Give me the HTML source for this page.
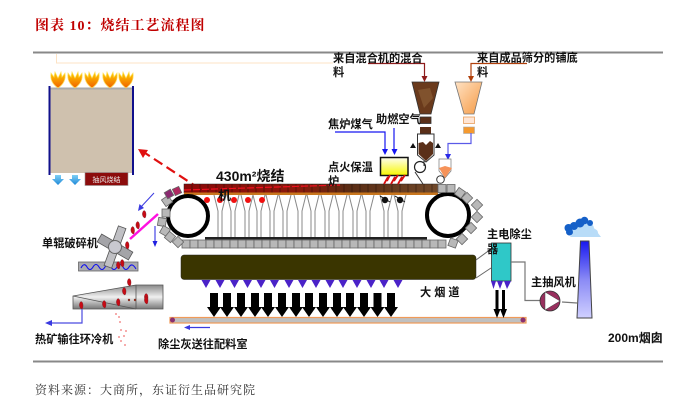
<!DOCTYPE html>
<html>
<head>
<meta charset="utf-8">
<style>
html,body{margin:0;padding:0;background:#fff;width:700px;height:415px;overflow:hidden}
svg{display:block}
.s{font-family:"Liberation Sans","Noto Sans CJK SC",sans-serif;fill:#111;font-size:11.2px;font-weight:700}
</style>
</head>
<body>
<svg width="700" height="415" viewBox="0 0 700 415" xmlns="http://www.w3.org/2000/svg">
<defs>
<linearGradient id="bed" x1="0" x2="1" y1="0" y2="0"><stop offset="0" stop-color="#8c0808"/><stop offset=".45" stop-color="#8a1a0c"/><stop offset=".65" stop-color="#5a2c14"/><stop offset="1" stop-color="#70492a"/></linearGradient>
<linearGradient id="org" x1="0" x2="1" y1="0" y2="1"><stop offset="0" stop-color="#ffe2c4"/><stop offset="1" stop-color="#f59a45"/></linearGradient>
<linearGradient id="yel" x1="0" x2="0" y1="0" y2="1"><stop offset="0" stop-color="#fdfdf0"/><stop offset="1" stop-color="#f8f800"/></linearGradient>
<linearGradient id="chim" x1="0" x2="0" y1="0" y2="1"><stop offset="0" stop-color="#1818f0"/><stop offset=".5" stop-color="#8a8af5"/><stop offset="1" stop-color="#d0d0ff"/></linearGradient>
<linearGradient id="cyl" x1="0" x2="0" y1="0" y2="1"><stop offset="0" stop-color="#888"/><stop offset=".5" stop-color="#f0f0f0"/><stop offset="1" stop-color="#777"/></linearGradient>
<linearGradient id="fl" x1="0" x2="0" y1="0" y2="1"><stop offset="0" stop-color="#ffd000"/><stop offset="1" stop-color="#f06000"/></linearGradient>
<linearGradient id="ba" x1="0" x2="0" y1="0" y2="1"><stop offset="0" stop-color="#7fd0f5"/><stop offset="1" stop-color="#1e88d8"/></linearGradient>
<g id="flame"><path d="M0,16 C-6,12 -8,7 -7,1 L-4,5 L-3,0 L0,6 L3,0 L4,5 L7,1 C8,7 6,12 0,16Z" fill="url(#fl)" stroke="#ffe060" stroke-width=".7"/></g>
<g id="down"><path d="M-3,0H3V4H6L0,10L-6,4H-3Z" fill="url(#ba)"/></g>
<g id="tri"><path d="M-4.5,0H4.5L0,8Z" fill="#4a22c8"/></g>
<g id="ar"><path d="M-4,0H4V14H7L0,24L-7,14H-4Z" fill="#000"/></g>
<g id="pl"><rect x="-4" y="-4" width="8" height="8" fill="#b8b8b8" stroke="#666" stroke-width=".8"/></g>
<g id="leg"><path d="M-6,195L-2,211V238H2V211L6,195" fill="#fff" stroke="#888" stroke-width="1"/></g>
<g id="rock"><path d="M0,-3.500C2.500,-3 2.500,2.500 1,4C-2,3.500 -2.500,-2 0,-3.500Z" fill="#c80a14" stroke="#70242c" stroke-width=".4"/></g>
</defs>

<text x="35" y="30" style="font-family:'Liberation Serif','Noto Serif CJK SC',serif;font-size:14px;font-weight:700;fill:#c00000;letter-spacing:1px">图表 10&#xFF1A;烧结工艺流程图</text>
<rect x="33" y="51.500" width="630" height="2" fill="#888"/>
<rect x="33" y="360.500" width="630" height="2" fill="#888"/>
<path d="M56.500,54V63H333" fill="none" stroke="#fde3c4" stroke-width="1"/>

<!-- left box -->
<rect x="50" y="88" width="83" height="85" fill="#cfc1ae"/>
<rect x="50" y="87.500" width="83" height="2" fill="#aaa"/>
<rect x="48.500" y="86" width="2" height="89" fill="#10108c"/>
<rect x="132" y="86" width="2" height="89" fill="#10108c"/>
<use href="#flame" x="58" y="72"/><use href="#flame" x="75" y="72"/><use href="#flame" x="92" y="72"/><use href="#flame" x="110" y="72"/><use href="#flame" x="126" y="72"/>
<use href="#down" x="58" y="175"/><use href="#down" x="75" y="175"/>
<rect x="85" y="172.500" width="43" height="13" fill="#8c0c0c" stroke="#999" stroke-width=".6"/>
<text x="106.500" y="182" text-anchor="middle" style="font-family:'Liberation Sans','Noto Sans CJK SC',sans-serif;font-size:7px;fill:#eee">抽风烧结</text>
<path d="M200,189L145,153" stroke="#e01010" stroke-width="2.200" stroke-dasharray="10,5" fill="none"/>
<path d="M138,149L148,150L143,158Z" fill="#e01010"/>

<!-- sinter bed -->
<rect x="184" y="184" width="254" height="9" fill="url(#bed)" stroke="#222" stroke-width=".5"/>
<path d="M192,184v9M200,184v9M208,184v9M216,184v9M224,184v9M232,184v9M240,184v9M248,184v9M256,184v9M264,184v9M272,184v9M280,184v9M288,184v9M296,184v9M304,184v9M312,184v9M320,184v9M328,184v9M336,184v9M344,184v9M352,184v9M360,184v9M368,184v9M376,184v9M384,184v9M392,184v9M400,184v9M408,184v9M416,184v9M424,184v9M432,184v9" stroke="#1a0a05" stroke-width=".7" opacity=".6"/>
<path d="M184,190L340,185" stroke="#f01020" stroke-width="1.200" stroke-dasharray="7,2"/>
<rect x="184" y="192.500" width="254" height="2.500" fill="#c8761e"/>

<!-- legs -->
<use href="#leg" x="220"/><use href="#leg" x="233"/><use href="#leg" x="247"/><use href="#leg" x="259"/><use href="#leg" x="272"/><use href="#leg" x="285"/><use href="#leg" x="300"/><use href="#leg" x="313"/><use href="#leg" x="327"/><use href="#leg" x="341"/><use href="#leg" x="355"/><use href="#leg" x="368"/><use href="#leg" x="386"/><use href="#leg" x="400"/>
<rect x="205" y="237" width="222" height="2.500" fill="#222"/>
<g fill="#f01010"><circle cx="207" cy="200" r="3"/><circle cx="220" cy="200" r="3"/><circle cx="234" cy="200" r="3"/><circle cx="248" cy="200" r="3"/><circle cx="262" cy="200" r="3"/></g>
<circle cx="385" cy="200" r="3.200" fill="#111"/><circle cx="400" cy="200" r="3.200" fill="#111"/>
<path d="M380,196L390,202M395,196L405,202" stroke="#111"/>

<!-- wheels -->
<circle cx="188" cy="216" r="20" fill="#fff" stroke="#000" stroke-width="4"/>
<circle cx="448" cy="215" r="21" fill="#fff" stroke="#000" stroke-width="4"/>

<!-- bottom chain -->
<g>
<use href="#pl" x="186" y="244"/><use href="#pl" x="194" y="244"/><use href="#pl" x="202" y="244"/><use href="#pl" x="210" y="244"/><use href="#pl" x="218" y="244"/><use href="#pl" x="226" y="244"/><use href="#pl" x="234" y="244"/><use href="#pl" x="242" y="244"/><use href="#pl" x="250" y="244"/><use href="#pl" x="258" y="244"/><use href="#pl" x="266" y="244"/><use href="#pl" x="274" y="244"/><use href="#pl" x="282" y="244"/><use href="#pl" x="290" y="244"/><use href="#pl" x="298" y="244"/><use href="#pl" x="306" y="244"/><use href="#pl" x="314" y="244"/><use href="#pl" x="322" y="244"/><use href="#pl" x="330" y="244"/><use href="#pl" x="338" y="244"/><use href="#pl" x="346" y="244"/><use href="#pl" x="354" y="244"/><use href="#pl" x="362" y="244"/><use href="#pl" x="370" y="244"/><use href="#pl" x="378" y="244"/><use href="#pl" x="386" y="244"/><use href="#pl" x="394" y="244"/><use href="#pl" x="402" y="244"/><use href="#pl" x="410" y="244"/><use href="#pl" x="418" y="244"/><use href="#pl" x="426" y="244"/><use href="#pl" x="434" y="244"/><use href="#pl" x="442" y="244"/>
</g>
<!-- left chain -->
<g transform="translate(167,201) rotate(-35)"><use href="#pl"/></g>
<rect x="162" y="209" width="8" height="8" fill="#b8b8b8" stroke="#666" stroke-width=".8"/>
<g transform="translate(162,222) rotate(10)"><use href="#pl"/></g>
<g transform="translate(165,231) rotate(30)"><use href="#pl"/></g>
<g transform="translate(170,237) rotate(40)"><use href="#pl"/></g>
<g transform="translate(178,242) rotate(45)"><use href="#pl"/></g>
<g transform="translate(169,194) rotate(-30)"><rect x="-3.500" y="-3.500" width="7" height="7" fill="#8a2a70" stroke="#666" stroke-width=".8"/></g>
<g transform="translate(177,191) rotate(-25)"><rect x="-3.500" y="-3.500" width="7" height="7" fill="#b02860" stroke="#666" stroke-width=".8"/></g>
<!-- right chain -->
<use href="#pl" x="442" y="188.500"/><use href="#pl" x="451" y="188.500"/>
<g transform="translate(460,193) rotate(35)"><use href="#pl"/></g>
<g transform="translate(467,198) rotate(45)"><use href="#pl"/></g>
<g transform="translate(477,205) rotate(45)"><use href="#pl"/></g>
<g transform="translate(477,217) rotate(45)"><use href="#pl"/></g>
<g transform="translate(471,228) rotate(45)"><use href="#pl"/></g>
<g transform="translate(462,239) rotate(45)"><use href="#pl"/></g>
<g transform="translate(453,243) rotate(20)"><use href="#pl"/></g>

<!-- flue -->
<rect x="181" y="255" width="295" height="24.500" rx="3" fill="#3a3500" stroke="#222" stroke-width=".5"/>
<path d="M476,260L491,249M476,278L491,268" stroke="#666" stroke-width="1"/>
<use href="#tri" x="206" y="280"/><use href="#tri" x="220" y="280"/><use href="#tri" x="234.500" y="280"/><use href="#tri" x="247.500" y="280"/><use href="#tri" x="261" y="280"/><use href="#tri" x="274.500" y="280"/><use href="#tri" x="289" y="280"/><use href="#tri" x="302.500" y="280"/><use href="#tri" x="316" y="280"/><use href="#tri" x="330" y="280"/><use href="#tri" x="343" y="280"/><use href="#tri" x="357" y="280"/><use href="#tri" x="371" y="280"/><use href="#tri" x="384" y="280"/><use href="#tri" x="398" y="280"/>
<use href="#ar" x="214" y="293"/><use href="#ar" x="227" y="293"/><use href="#ar" x="241" y="293"/><use href="#ar" x="255" y="293"/><use href="#ar" x="268" y="293"/><use href="#ar" x="282" y="293"/><use href="#ar" x="296" y="293"/><use href="#ar" x="309" y="293"/><use href="#ar" x="323" y="293"/><use href="#ar" x="337" y="293"/><use href="#ar" x="350" y="293"/><use href="#ar" x="364" y="293"/><use href="#ar" x="377.500" y="293"/><use href="#ar" x="391" y="293"/>

<!-- dust conveyor -->
<rect x="170" y="317.500" width="356" height="5.500" fill="#c0c0c0" stroke="#f09a58" stroke-width="1.200"/>
<circle cx="172.500" cy="320" r="2.500" fill="#8a3070"/><circle cx="523" cy="320" r="2.500" fill="#8a3070"/>
<path d="M210,327.500H188" stroke="#3a3ae0" stroke-width="1.200"/><path d="M184,327.500L190,325V330Z" fill="#3a3ae0"/>

<!-- material lines -->
<path d="M368,63.500H424.500V78" fill="none" stroke="#8e1c1c" stroke-width="1.200"/><path d="M424.500,82L421.500,76H427.500Z" fill="#8e1c1c"/>
<path d="M527,63.500H471V78" fill="none" stroke="#b0400c" stroke-width="1.200"/><path d="M471,82L468,76H474Z" fill="#b0400c"/>

<!-- hopper 1 -->
<path d="M412,82H439L431,114H420Z" fill="#6a3a1c" stroke="#333" stroke-width=".8"/>
<path d="M418,90L430,88L433,98L424,108Z" fill="#8a5c34" opacity=".7"/>
<rect x="420" y="117" width="11" height="6.500" fill="#5a2f18" stroke="#333" stroke-width=".8"/>
<rect x="420" y="127" width="11" height="6.500" fill="#5a2f18"/>
<path d="M417.500,134H434V155L426,162L417.500,155Z" fill="#fff" stroke="#333" stroke-width="1"/>
<path d="M418.500,143L423,142L426,145L430,141L433,143V154L426,161L418.500,154Z" fill="#5a2f18"/>
<path d="M410,148L413,143L416,148ZM435,148L438,143L441,148Z" fill="#111"/>
<circle cx="420" cy="167" r="5.500" fill="#fff" stroke="#222" stroke-width="1.200"/>
<path d="M415,172L423,184" stroke="#333" stroke-width="1"/><path d="M424,161L424,166" stroke="#333"/>

<!-- hopper 2 -->
<path d="M455,82H482L474,114H464Z" fill="url(#org)" stroke="#777" stroke-width=".8"/>
<rect x="463.500" y="117" width="11" height="6.500" fill="#ffe6d6" stroke="#e8a060" stroke-width=".8"/>
<rect x="463.500" y="127" width="11" height="6.500" fill="#f59a30" stroke="#aaa" stroke-width=".6"/>
<path d="M471,133V143.500H448V156" fill="none" stroke="#5a5ae8" stroke-width="1.200"/><path d="M448,160L445,154H451Z" fill="#2a2ae8"/>
<path d="M439,159H451V171L445,178L439,171Z" fill="#fff" stroke="#777" stroke-width=".7"/>
<path d="M439,168L445,166L452,168L445,178Z" fill="#f6935a"/>
<circle cx="440.500" cy="179.500" r="3.800" fill="#fff" stroke="#333" stroke-width="1"/>

<!-- furnace -->
<rect x="380.500" y="157.500" width="27.500" height="18" fill="url(#yel)" stroke="#111" stroke-width="1.500"/>
<path d="M384,184L388,177L387,181L390,175M391,184L395,177L394,181L398,175M398,184L402,177L401,181L405,175" stroke="#d81010" stroke-width="1.800" fill="none"/>
<path d="M335,132H385V150M394,128V150" fill="none" stroke="#1616f0" stroke-width="1.200"/>
<path d="M385,155L382,149H388ZM394.500,155L391.500,149H397.500Z" fill="#1616f0"/>

<!-- crusher -->
<rect x="78.500" y="262" width="59.500" height="9" fill="#aaaab0" stroke="#666" stroke-width=".8"/>
<path d="M81,268Q84,262 87,267T93,267T99,267T105,267T111,267T117,267T123,267T129,267T136,269" fill="none" stroke="#1010f0" stroke-width="1.100"/>
<g transform="translate(115,247)">
<g transform="rotate(20)"><rect x="-4" y="-21" width="8" height="42" fill="#c0c0c4" stroke="#555" stroke-width=".8"/></g>
<g transform="rotate(120)"><rect x="-4.500" y="-18" width="9" height="36" fill="#a4a4a8" stroke="#555" stroke-width=".8"/></g>
<circle r="6.500" fill="#c8c8d0" stroke="#666"/>
</g>
<path d="M130,239L158,214" stroke="#ff10e0" stroke-width="2.500"/>
<path d="M154,193L140,208" stroke="#3a3ae0" stroke-width="1"/><path d="M138,211L139.500,204L144,208Z" fill="#3a3ae0"/>
<path d="M155,226V243" stroke="#2020e0" stroke-width="1"/><path d="M155,247L152.500,241H157.500Z" fill="#2020e0"/>
<use href="#rock" x="144" y="214"/><use href="#rock" x="137.500" y="225"/><use href="#rock" x="132.500" y="230"/><use href="#rock" x="127" y="245"/><use href="#rock" x="122" y="263"/><use href="#rock" x="118" y="265"/>

<!-- cooler -->
<path d="M73,296L136,285H163V309H73Z" fill="url(#cyl)" stroke="#555" stroke-width=".8"/>
<path d="M73,296L136,309M136,285V309" stroke="#555" stroke-width=".8" fill="none"/>
<use href="#rock" x="129" y="282"/><use href="#rock" x="124" y="291"/><use href="#rock" x="146" y="297"/><use href="#rock" x="146" y="300"/><use href="#rock" x="118" y="302"/><use href="#rock" x="104" y="304"/><use href="#rock" x="81" y="305"/>
<circle cx="129" cy="300" r="1.200" fill="#8a3020"/><circle cx="135" cy="300" r="1.200" fill="#8a3020"/>
<path d="M82,309V323H50" fill="none" stroke="#4a4ae0" stroke-width="1.200"/><path d="M45,323L52,320V326Z" fill="#3a3ae0"/>
<g fill="#f07070"><circle cx="116" cy="314" r=".9"/><circle cx="119" cy="317" r=".9"/><circle cx="120" cy="322" r=".9"/><circle cx="121" cy="330" r=".9"/><circle cx="126" cy="331" r=".9"/><circle cx="124" cy="336" r=".9"/><circle cx="119" cy="337" r=".9"/><circle cx="121" cy="341" r=".9"/><circle cx="125" cy="345" r=".9"/></g>

<!-- precipitator -->
<rect x="491.500" y="243" width="19.500" height="38" fill="#2fc8c8" stroke="#333" stroke-width=".8"/>
<path d="M491,281H496L493.500,289ZM497,281H503L500,289ZM504,281H511L507,289Z" fill="#4a22c8"/>
<path d="M497,290V311M503.500,290V311" stroke="#000" stroke-width="3"/>
<path d="M497,318L493.500,309H500.500ZM503.500,318L500,309H507Z" fill="#000"/>
<path d="M511,262H525V300.500H540" fill="none" stroke="#777" stroke-width="1.200"/>
<circle cx="550" cy="301" r="10" fill="#98305e" stroke="#333" stroke-width=".8"/>
<path d="M545,292L560,301L545,310Z" fill="#fff" stroke="#444" stroke-width=".5"/>
<path d="M562,302L577,303" stroke="#777" stroke-width="1.200"/>

<!-- chimney -->
<path d="M580.500,241H589L592,318H577Z" fill="url(#chim)" stroke="#444" stroke-width="1"/>
<g fill="#b8dcf8"><circle cx="578" cy="231" r="6"/><circle cx="587" cy="229" r="7"/><circle cx="594" cy="233" r="4"/><path d="M570,237L577,228L594,228L601,237Z"/></g>
<g fill="#1560c8"><circle cx="568.500" cy="228" r="4"/><circle cx="574" cy="226" r="4"/><circle cx="569.500" cy="232" r="3.500"/><circle cx="580" cy="223" r="4.500"/><circle cx="584.500" cy="220.500" r="3.800"/><circle cx="590" cy="223" r="3"/></g>

<!-- labels -->
<text class="s" x="333" y="62">来自混合机的混合</text>
<text class="s" x="333" y="76">料</text>
<text class="s" x="477" y="61.500">来自成品筛分的铺底</text>
<text class="s" x="477" y="76">料</text>
<text class="s" x="328" y="128">焦炉煤气</text>
<text class="s" x="376" y="123">助燃空气</text>
<text class="s" x="328" y="171">点火保温</text>
<text class="s" x="328" y="185">炉</text>
<text class="s" x="216" y="181" style="font-size:14px">430m²烧结</text>
<text class="s" x="218" y="200" style="font-size:13px">机</text>
<text class="s" x="42" y="247">单辊破碎机</text>
<text class="s" x="35" y="343">热矿输往环冷机</text>
<text class="s" x="158" y="348">除尘灰送往配料室</text>
<text class="s" x="420" y="296" style="letter-spacing:3px">大烟道</text>
<text class="s" x="487" y="238">主电除尘</text>
<text class="s" x="487" y="253">器</text>
<text class="s" x="531" y="286">主抽风机</text>
<text class="s" x="608" y="342" style="font-size:12px">200m烟囱</text>

<text x="35" y="394" style="font-family:'Liberation Serif','Noto Serif CJK SC',serif;font-size:12px;fill:#333;letter-spacing:1px">资料来源&#xFF1A;大商所&#xFF0C;东证衍生品研究院</text>
</svg>
</body>
</html>
